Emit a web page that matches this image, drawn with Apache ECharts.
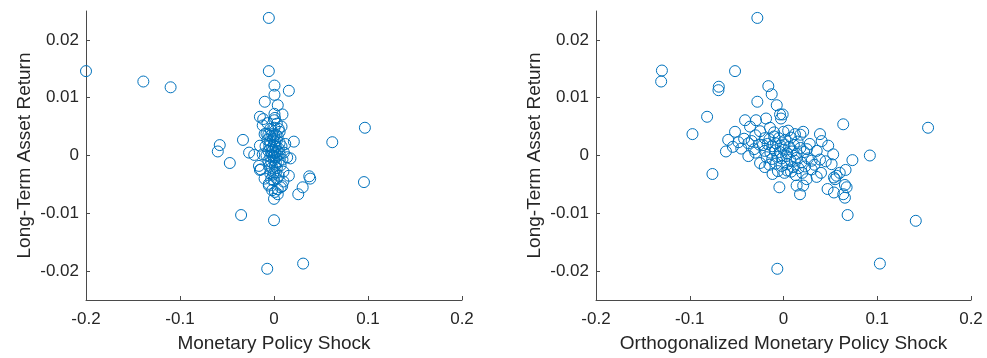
<!DOCTYPE html>
<html>
<head>
<meta charset="utf-8">
<title>Long-Term Asset Return vs Monetary Policy Shock</title>
<script src="https://cdn.jsdelivr.net/npm/echarts@6/dist/echarts.min.js"></script>
<style>
  html, body { margin: 0; padding: 0; background: #ffffff; }
  #chart { width: 987px; height: 358px; }
</style>
</head>
<body>
<div id="chart"></div>
<script>
// Axis extents and tick labels shared by both panels
const xTicks = [-0.2, -0.1, 0, 0.1, 0.2];
const yTicks = [-0.02, -0.01, 0, 0.01, 0.02];
const xRange = [-0.2, 0.2];
const yRange = [-0.025, 0.025];

const titleRaw = 'Monetary Policy Shock';
const titleOrth = 'Orthogonalized Monetary Policy Shock';
const titleY = 'Long-Term Asset Return';

// Raw monetary policy shock vs long-term asset return [shock, return]
const rawShock = [
  [-0.200, 0.0146], [-0.139, 0.0128], [-0.110, 0.0118], [-0.0055, 0.0238],
  [-0.0055, 0.0146], [0.0005, 0.0121], [0.0005, 0.0105], [0.0158, 0.0112],
  [-0.0098, 0.0093], [0.0040, 0.0087], [-0.0150, 0.0067], [-0.0115, 0.0063],
  [0.0005, 0.0072], [0.0010, 0.0065], [0.0090, 0.0071], [0.0005, 0.0061],
  [0.0005, 0.0048], [0.0050, 0.0046], [-0.0330, 0.0027], [-0.0577, 0.0018],
  [-0.0598, 0.0007], [-0.0470, -0.0013], [-0.0265, 0.0005], [-0.0210, 0.0001],
  [-0.0150, 0.0017], [-0.0100, 0.0037], [0.0211, 0.0024], [0.0620, 0.0023],
  [0.0967, 0.0048], [0.0175, -0.0005], [0.0140, -0.0003], [0.0105, 0.0005],
  [-0.0160, -0.0018], [-0.0140, -0.0024], [0.0158, -0.0035], [0.0375, -0.0036],
  [0.0385, -0.0040], [0.0305, -0.0055], [0.0258, -0.0067], [0.0957, -0.0046],
  [-0.0350, -0.0103], [0.0000, -0.0112], [-0.0072, -0.0196], [0.0310, -0.0187],
  [-0.0055, -0.0052], [-0.0055, -0.0049], [0.0070, -0.0055], [0.0087, -0.0053],
  [0.0040, -0.0067], [0.0000, -0.0075], [0.0000, -0.0029], [-0.0150, -0.0025],
  [-0.008, 0.0038], [-0.006, 0.0036], [-0.004, 0.0034], [-0.002, 0.0037],
  [0.000, 0.0035], [0.002, 0.0036], [0.004, 0.0033], [-0.007, 0.0027],
  [-0.004, 0.0025], [-0.001, 0.0028], [0.001, 0.0024], [0.003, 0.0026],
  [0.006, 0.0022], [-0.009, 0.0016], [-0.005, 0.0017], [-0.002, 0.0014],
  [0.000, 0.0018], [0.002, 0.0015], [0.005, 0.0012], [0.008, 0.0016],
  [-0.006, 0.0008], [-0.003, 0.0006], [-0.001, 0.0009], [0.001, 0.0004],
  [0.003, 0.0007], [0.006, 0.0003], [-0.008, 0.0000], [-0.004, -0.0002],
  [-0.002, 0.0001], [0.000, -0.0001], [0.002, -0.0003], [0.004, 0.0000],
  [-0.006, -0.0009], [-0.003, -0.0011], [0.000, -0.0008], [0.002, -0.0012],
  [0.005, -0.0010], [0.009, -0.0007], [-0.005, -0.0019], [-0.002, -0.0021],
  [0.001, -0.0018], [0.003, -0.0022], [0.007, -0.0017], [-0.004, -0.0031],
  [-0.001, -0.0033], [0.002, -0.0030], [0.005, -0.0035], [-0.003, -0.0041],
  [0.000, -0.0043], [0.003, -0.0040], [-0.002, -0.0060], [0.001, -0.0063],
  [0.004, -0.0058], [-0.012, 0.0052], [-0.007, 0.0056], [0.003, 0.0055],
  [0.008, 0.0050], [-0.010, -0.0040], [0.010, -0.0028], [-0.012, 0.0002],
  [0.012, 0.0020], [0.010, -0.0045], [-0.004, 0.0046], [0.006, 0.0041]
];

// Orthogonalized monetary policy shock vs long-term asset return [shock, return]
const orthShock = [
  [-0.0279, 0.0238], [-0.1297, 0.0147], [-0.1305, 0.0128], [-0.0517, 0.0146],
  [-0.0690, 0.0119], [-0.0694, 0.0113], [-0.0162, 0.0120], [-0.0126, 0.0106],
  [-0.0279, 0.0093], [-0.0072, 0.0087], [-0.0037, 0.0071], [-0.0009, 0.0071],
  [-0.0027, 0.0064], [-0.0815, 0.0067], [-0.0971, 0.0037], [-0.0410, 0.0061],
  [-0.0293, 0.0061], [-0.0186, 0.0064], [-0.0357, 0.0050], [-0.0144, 0.0048],
  [-0.0517, 0.0041], [0.0000, 0.0041], [0.0122, 0.0037], [-0.0590, 0.0027],
  [-0.0540, 0.0015], [-0.0614, 0.0007], [-0.0420, 0.0029], [-0.0375, 0.0021],
  [-0.0375, -0.0001], [-0.0314, 0.0011], [-0.0258, 0.0019], [-0.0250, -0.0013],
  [-0.0758, -0.0032], [-0.0117, -0.0032], [0.0637, 0.0054], [0.0921, 0.0000],
  [0.0735, -0.0008], [0.0662, -0.0025], [0.0513, -0.0015], [-0.0044, -0.0055],
  [0.0176, -0.0067], [0.0140, -0.0052], [0.0210, -0.0052], [0.0354, -0.0037],
  [0.0470, -0.0058], [0.0538, -0.0038], [0.0566, -0.0035], [0.0550, -0.0041],
  [0.0655, -0.0051], [0.0673, -0.0055], [0.0637, -0.0067], [0.0655, -0.0073],
  [0.0538, -0.0064], [0.0684, -0.0103], [0.0040, -0.0026], [0.0300, -0.0024],
  [0.0210, 0.0041], [0.0389, 0.0037], [0.0407, 0.0025], [0.0477, 0.0017],
  [0.0530, 0.0002], [0.0389, -0.0007], [0.0354, 0.0008], [0.0250, 0.0011],
  [0.0300, -0.0009], [0.0140, -0.0004], [0.1542, 0.0048], [0.1411, -0.0113],
  [-0.0066, -0.0196], [0.1028, -0.0187], [0.0247, -0.0041], [0.0400, -0.0030],
  [0.0600, -0.0030],
  [-0.020, 0.0030], [-0.015, 0.0028], [-0.010, 0.0033], [-0.005, 0.0030],
  [0.002, 0.0027], [0.008, 0.0031], [0.015, 0.0024], [-0.022, 0.0018],
  [-0.017, 0.0020], [-0.012, 0.0016], [-0.008, 0.0021], [-0.003, 0.0017],
  [0.001, 0.0019], [0.006, 0.0015], [0.011, 0.0018], [0.018, 0.0013],
  [-0.020, 0.0008], [-0.014, 0.0005], [-0.009, 0.0009], [-0.004, 0.0006],
  [0.000, 0.0010], [0.004, 0.0004], [0.009, 0.0007], [0.014, 0.0003],
  [0.022, 0.0006], [-0.018, -0.0003], [-0.012, -0.0006], [-0.006, -0.0002],
  [-0.002, -0.0005], [0.003, -0.0001], [0.007, -0.0007], [0.012, -0.0009],
  [0.019, -0.0012], [0.026, -0.0005], [-0.015, -0.0016], [-0.008, -0.0014],
  [-0.002, -0.0018], [0.004, -0.0015], [0.010, -0.0020], [0.016, -0.0022],
  [0.023, -0.0019], [-0.006, -0.0027], [0.001, -0.0030], [0.008, -0.0028],
  [0.013, -0.0034], [0.020, -0.0030], [-0.030, 0.0035], [-0.025, 0.0042],
  [-0.034, 0.0025], [-0.030, 0.0005], [-0.045, 0.0012], [-0.048, 0.0023],
  [-0.020, -0.0020], [0.028, 0.0020], [0.033, -0.0016], [0.045, -0.0010],
  [-0.010, 0.0040], [0.005, 0.0043], [0.018, 0.0036]
];

const FONT = '"Liberation Sans", Arial, Helvetica, sans-serif';
const AXIS_COLOR = '#4a4a4a';
const TEXT_COLOR = '#262626';
const MARKER_COLOR = '#0072BD';

function xAxisFor(gridIndex, name) {
  return {
    type: 'value',
    gridIndex: gridIndex,
    min: xRange[0],
    max: xRange[1],
    interval: 0.1,
    name: name,
    nameLocation: 'middle',
    nameGap: 34,
    nameTextStyle: { fontFamily: FONT, fontSize: 19, color: TEXT_COLOR },
    axisLine: { show: true, onZero: false, lineStyle: { color: AXIS_COLOR, width: 1 } },
    axisTick: { show: true, inside: true, length: 4, customValues: xTicks,
                lineStyle: { color: AXIS_COLOR, width: 1 } },
    axisLabel: { fontFamily: FONT, fontSize: 17, color: TEXT_COLOR, margin: 11,
                 customValues: xTicks, showMinLabel: true, showMaxLabel: true },
    splitLine: { show: false }
  };
}

function yAxisFor(gridIndex) {
  return {
    type: 'value',
    gridIndex: gridIndex,
    min: yRange[0],
    max: yRange[1],
    name: titleY,
    nameLocation: 'middle',
    nameGap: 52,
    nameTextStyle: { fontFamily: FONT, fontSize: 19, color: TEXT_COLOR },
    axisLine: { show: true, onZero: false, lineStyle: { color: AXIS_COLOR, width: 1 } },
    axisTick: { show: true, inside: true, length: 4, customValues: yTicks,
                lineStyle: { color: AXIS_COLOR, width: 1 } },
    axisLabel: { fontFamily: FONT, fontSize: 17, color: TEXT_COLOR, margin: 7,
                 customValues: yTicks,
                 formatter: v => String(Math.round(v * 100) / 100) },
    splitLine: { show: false }
  };
}

// Open, unfilled circle markers so overlapping points stay visible
function scatterFor(index, data) {
  return {
    type: 'scatter',
    xAxisIndex: index,
    yAxisIndex: index,
    data: data,
    symbol: 'circle',
    symbolSize: 11,
    itemStyle: { color: 'rgba(0,0,0,0)', borderColor: MARKER_COLOR, borderWidth: 1, opacity: 1 },
    emphasis: { disabled: true },
    silent: true,
    animation: false
  };
}

const chart = echarts.init(document.getElementById('chart'), null, { renderer: 'canvas' });
chart.setOption({
  backgroundColor: '#ffffff',
  animation: false,
  grid: [
    { left: 86, top: 11, width: 376, height: 291, containLabel: false },
    { left: 596, top: 11, width: 375, height: 291, containLabel: false }
  ],
  xAxis: [xAxisFor(0, titleRaw), xAxisFor(1, titleOrth)],
  yAxis: [yAxisFor(0), yAxisFor(1)],
  series: [scatterFor(0, rawShock), scatterFor(1, orthShock)]
});
</script>
</body>
</html>
